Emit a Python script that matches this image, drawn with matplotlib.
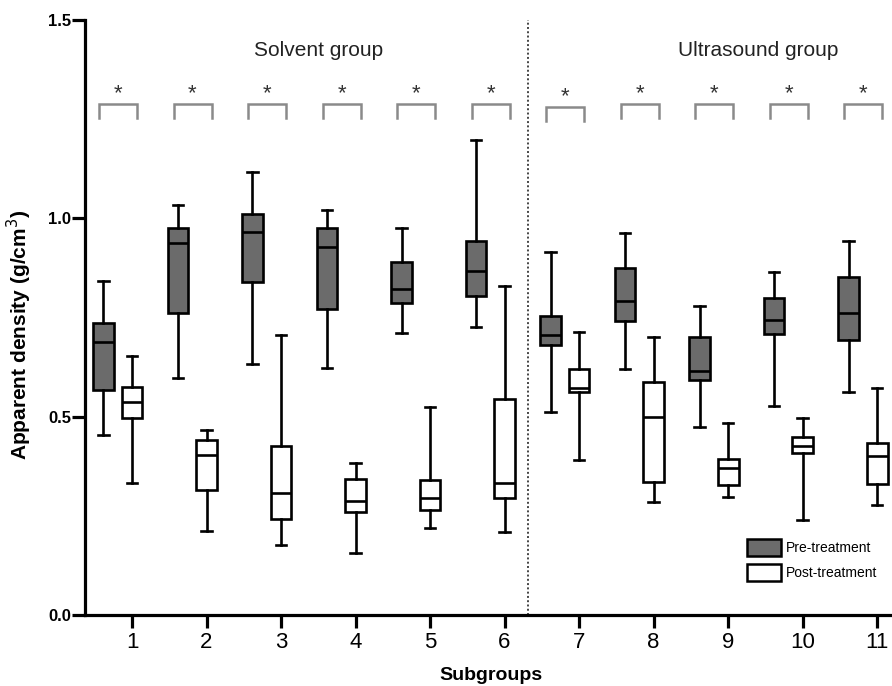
import matplotlib
matplotlib.use("Agg")
import matplotlib.pyplot as plt
from matplotlib.patches import Patch

plt.rcParams['font.family'] = ['Liberation Sans', 'DejaVu Sans']

# ---- data ----
subgroups = [1, 2, 3, 4, 5, 6, 7, 8, 9, 10, 11]
xtick_labels = ['1', '2', '3', '4', '5', '6', '7', '8', '9', '10', '11']

pre_whislo = [0.454, 0.597, 0.632, 0.622, 0.710, 0.727, 0.511, 0.620, 0.473, 0.527, 0.563]
pre_q1     = [0.567, 0.762, 0.839, 0.771, 0.786, 0.804, 0.681, 0.741, 0.592, 0.708, 0.693]
pre_med    = [0.689, 0.937, 0.966, 0.928, 0.821, 0.866, 0.706, 0.792, 0.615, 0.744, 0.762]
pre_q3     = [0.737, 0.975, 1.011, 0.975, 0.889, 0.944, 0.755, 0.876, 0.700, 0.800, 0.853]
pre_whishi = [0.842, 1.034, 1.118, 1.021, 0.975, 1.197, 0.916, 0.962, 0.780, 0.864, 0.943]

post_whislo = [0.332, 0.213, 0.176, 0.156, 0.219, 0.208, 0.391, 0.284, 0.297, 0.240, 0.277]
post_q1     = [0.496, 0.315, 0.241, 0.259, 0.265, 0.294, 0.561, 0.336, 0.328, 0.408, 0.330]
post_med    = [0.536, 0.403, 0.307, 0.287, 0.296, 0.332, 0.572, 0.500, 0.370, 0.425, 0.401]
post_q3     = [0.574, 0.441, 0.427, 0.343, 0.340, 0.544, 0.619, 0.587, 0.393, 0.450, 0.433]
post_whishi = [0.654, 0.466, 0.706, 0.384, 0.524, 0.829, 0.714, 0.702, 0.483, 0.496, 0.572]

sig_marks = ['*'] * 11
sig_heights = [1.288, 1.287, 1.287, 1.287, 1.287, 1.287, 1.281, 1.289, 1.289, 1.289, 1.289]

group_labels = ['Solvent group', 'Ultrasound group']
group_label_x = [3.51, 9.40]
group_divider = 6.32
legend_labels = ['Pre-treatment', 'Post-treatment']

# ---- styles ----
pre_color = '#6b6b6b'
post_color = '#ffffff'
pre_offset = -0.383
box_w = 0.28
lw = 1.9

W, H = 892, 686
fig = plt.figure(figsize=(W / 100, H / 100), dpi=100)
ax = fig.add_axes([85 / W, 1 - 615 / H, (892 - 85) / W, (615 - 20) / H])


def stats(lo, q1, med, q3, hi):
    return [dict(whislo=a, q1=b, med=c, q3=d, whishi=e, fliers=[])
            for a, b, c, d, e in zip(lo, q1, med, q3, hi)]


common = dict(widths=box_w, patch_artist=True, showfliers=False,
              whiskerprops=dict(color='black', linewidth=lw),
              capprops=dict(color='black', linewidth=lw),
              medianprops=dict(color='black', linewidth=lw))

pre_pos = [s + pre_offset for s in subgroups]
ax.bxp(stats(pre_whislo, pre_q1, pre_med, pre_q3, pre_whishi), positions=pre_pos,
       boxprops=dict(facecolor=pre_color, edgecolor='black', linewidth=lw), **common)
ax.bxp(stats(post_whislo, post_q1, post_med, post_q3, post_whishi), positions=subgroups,
       boxprops=dict(facecolor=post_color, edgecolor='black', linewidth=lw), **common)

# significance brackets
for s, y, m in zip(subgroups, sig_heights, sig_marks):
    x0 = s + pre_offset - 0.06
    x1 = s + 0.067
    ax.plot([x0, x0, x1, x1], [y - 0.035, y, y, y - 0.035], color='#8a8a8a',
            linewidth=1.8, solid_joinstyle='miter')
    ax.text((x0 + x1) / 2, y + 0.0, m, ha='center', va='bottom',
            fontsize=16, color='#333333')

# group divider and labels
ax.axvline(group_divider, ymin=0, ymax=1.0, color='#444444', linestyle=(0, (1, 1.2)),
           linewidth=1.4)
for gx, gl in zip(group_label_x, group_labels):
    ax.text(gx, 1.424, gl, ha='center', va='center', fontsize=15, color='#222222')

# axes
ax.set_xlim(0.369, 11.20)
ax.set_ylim(0, 1.5)
ax.set_yticks([0.0, 0.5, 1.0, 1.5])
ax.set_yticklabels(['0.0', '0.5', '1.0', '1.5'], fontweight='bold', fontsize=12)
ax.set_xticks(subgroups)
ax.set_xticklabels(xtick_labels, fontsize=16)
for sp in ['top', 'right']:
    ax.spines[sp].set_visible(False)
for sp in ['left', 'bottom']:
    ax.spines[sp].set_linewidth(2.3)
ax.tick_params(axis='both', width=2.3, length=9.5, color='black')
ax.tick_params(axis='y', pad=0.5)
ax.tick_params(axis='x', pad=3.0)

ax.set_ylabel('Apparent density (g/cm$^3$)', fontweight='bold', fontsize=15)
ax.yaxis.set_label_coords(-0.0635, 0.47)
ax.set_xlabel('Subgroups', fontweight='bold', fontsize=14)
ax.xaxis.set_label_coords(0.503, -0.088)

handles = [Patch(facecolor=pre_color, edgecolor='black', linewidth=1.8),
           Patch(facecolor=post_color, edgecolor='black', linewidth=1.8)]
ax.legend(handles, legend_labels, loc='upper left',
          bbox_to_anchor=(747 / W, 1 - 539 / H), bbox_transform=fig.transFigure,
          frameon=False, fontsize=10, handlelength=2.45, handleheight=1.5,
          labelspacing=0.58, handletextpad=0.36, borderpad=0, borderaxespad=0)

fig.savefig('out.png', dpi=100)
